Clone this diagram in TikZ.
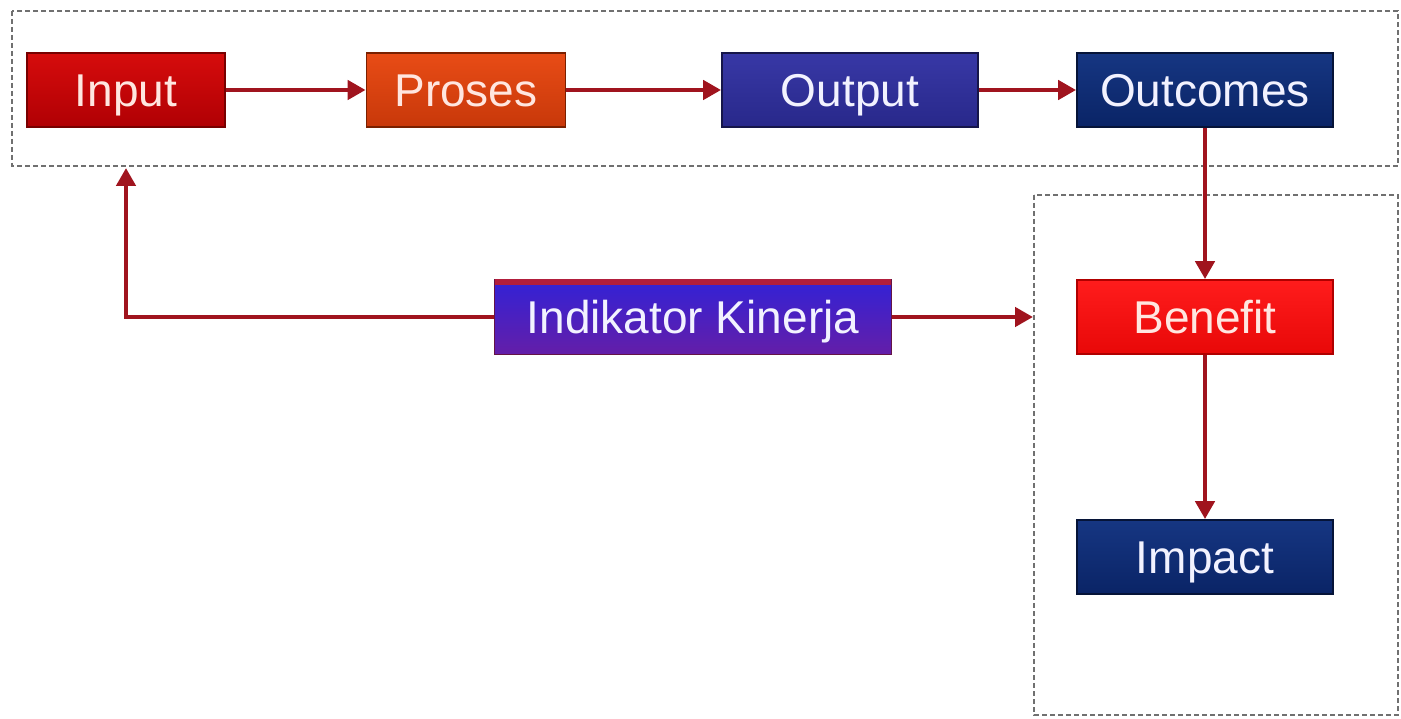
\documentclass[tikz,border=0pt]{standalone}
\usepackage{fontspec}
\setmainfont{Liberation Sans}
\usetikzlibrary{arrows.meta}
\definecolor{arrowred}{HTML}{A0141E}
\definecolor{framegray}{HTML}{707070}
\definecolor{redtext}{HTML}{FFE6E0}
\definecolor{bluetext}{HTML}{F2F2FF}
\begin{document}
\begin{tikzpicture}[x=1pt,y=-1pt,
  box/.style={rectangle, inner sep=0pt, line width=1.8pt, font=\fontsize{46}{50}\selectfont, text height=33pt, text depth=0pt},
  wide/.style={minimum width=256pt, minimum height=74pt},
  redbox/.style={box, text=redtext},
  bluebox/.style={box, text=bluetext},
  conn/.style={draw=arrowred, line width=4.5pt, -{Triangle[length=18pt,width=19pt]}},
  frame/.style={draw=framegray, line width=1.5pt, dash pattern=on 5pt off 3pt}]
\useasboundingbox (0,0) rectangle (1401,719);
\fill[white] (0,0) rectangle (1401,719);
\draw[frame] (12,11) rectangle (1398,166);
\draw[frame] (1034,195) rectangle (1398,715);

\node[redbox, minimum width=198pt, minimum height=74pt, top color={rgb,255:red,214;green,12;blue,12}, bottom color={rgb,255:red,176;green,0;blue,4}, draw={rgb,255:red,120;green,0;blue,0}] (input) at (126,90) {Input};
\node[redbox, minimum width=199pt, minimum height=74pt, top color={rgb,255:red,232;green,76;blue,22}, bottom color={rgb,255:red,200;green,56;blue,10}, draw={rgb,255:red,122;green,32;blue,0}] (proses) at (466,90) {Proses};
\node[bluebox, wide, top color={rgb,255:red,56;green,56;blue,166}, bottom color={rgb,255:red,40;green,40;blue,138}, draw={rgb,255:red,22;green,22;blue,74}] (output) at (850,90) {Output};
\node[bluebox, wide, top color={rgb,255:red,22;green,54;blue,130}, bottom color={rgb,255:red,10;green,36;blue,102}, draw={rgb,255:red,6;green,20;blue,56}] (outcomes) at (1205,90) {Outcomes};

\node[bluebox, minimum width=397pt, minimum height=75pt, top color={rgb,255:red,50;green,34;blue,214}, middle color={rgb,255:red,48;green,28;blue,214}, bottom color={rgb,255:red,100;green,30;blue,168}, draw={rgb,255:red,100;green,20;blue,70}] (ind) at (693,317) {Indikator Kinerja};
\draw[line width=6pt, draw={rgb,255:red,178;green,30;blue,60}] ([yshift=-3.5pt,xshift=1pt]ind.north west) -- ([yshift=-3.5pt,xshift=-1pt]ind.north east);

\node[redbox, wide, top color={rgb,255:red,255;green,28;blue,28}, bottom color={rgb,255:red,232;green,8;blue,8}, draw={rgb,255:red,176;green,0;blue,0}] (benefit) at (1205,317) {Benefit};
\node[bluebox, wide, top color={rgb,255:red,22;green,54;blue,130}, bottom color={rgb,255:red,10;green,36;blue,102}, draw={rgb,255:red,6;green,20;blue,56}] (impact) at (1205,557) {Impact};

\coordinate (fb) at (126,168);
\coordinate (b2) at (1033,317);

\draw[conn] (input) -- (proses);
\draw[conn] (proses) -- (output);
\draw[conn] (output) -- (outcomes);
\draw[conn] (outcomes) -- (benefit);
\draw[conn] (benefit) -- (impact);
\draw[conn] (ind.west) -| (fb);
\draw[conn] (ind.east) -- (b2);
\end{tikzpicture}
\end{document}
